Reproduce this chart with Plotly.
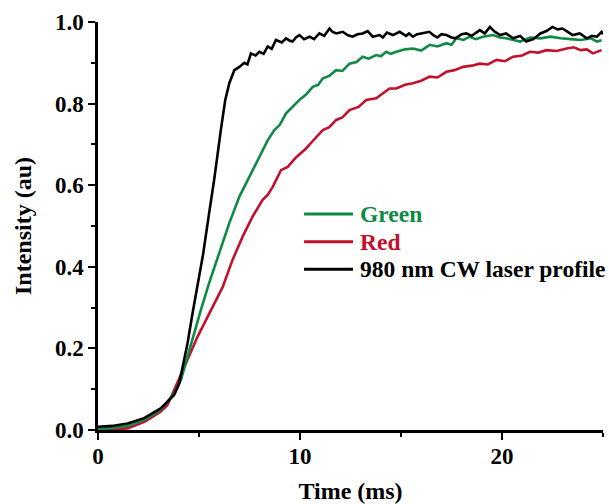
import plotly.graph_objects as go

# Rise of the upconversion emission under 980 nm CW excitation
t_laser = [0.0, 0.7, 1.46, 2.28, 3.1, 3.77, 4.02, 4.18, 4.43, 4.68, 4.93, 5.2, 5.5,
           5.75, 6.08, 6.3, 6.5, 6.75, 7.0, 7.24, 7.4, 7.57, 7.8, 7.99, 8.2, 8.4,
           8.6, 8.81, 9.1, 9.31, 9.5, 9.63, 9.8, 9.97, 10.2, 10.47, 10.7, 10.96,
           11.2, 11.46, 11.6, 11.79, 12.12, 12.35, 12.6, 12.85, 13.1, 13.35, 13.6,
           13.94, 14.1, 14.3, 14.6, 14.93, 15.25, 15.4, 15.59, 15.8, 16.0, 16.4,
           16.6, 16.8, 17.0, 17.25, 17.5, 17.7, 18.0, 18.24, 18.5, 18.9, 19.15,
           19.4, 19.6, 19.9, 20.2, 20.55, 20.9, 21.2, 21.55, 21.9, 22.2, 22.5,
           22.75, 23.0, 23.25, 23.5, 23.85, 24.2, 24.45, 24.7, 24.93, 25.0]
v_laser = [0.008, 0.010, 0.016, 0.029, 0.053, 0.086, 0.114, 0.155, 0.212, 0.286,
           0.351, 0.430, 0.531, 0.613, 0.735, 0.809, 0.850, 0.882, 0.890, 0.900,
           0.896, 0.923, 0.918, 0.927, 0.922, 0.940, 0.934, 0.956, 0.950, 0.960,
           0.954, 0.952, 0.962, 0.968, 0.958, 0.964, 0.958, 0.972, 0.966, 0.984,
           0.976, 0.972, 0.976, 0.968, 0.964, 0.970, 0.972, 0.978, 0.964, 0.968,
           0.962, 0.974, 0.968, 0.976, 0.966, 0.972, 0.964, 0.970, 0.972, 0.976,
           0.968, 0.962, 0.970, 0.968, 0.962, 0.960, 0.970, 0.972, 0.966, 0.980,
           0.972, 0.988, 0.978, 0.968, 0.972, 0.960, 0.966, 0.952, 0.958, 0.972,
           0.978, 0.988, 0.982, 0.984, 0.976, 0.968, 0.972, 0.960, 0.966, 0.964,
           0.976, 0.970]

t_green = [0.0, 0.7, 1.46, 2.3, 3.1, 3.77, 4.1, 4.43, 4.76, 5.09, 5.5, 6.0, 6.5,
           7.0, 7.49, 7.99, 8.4, 8.73, 9.0, 9.31, 9.6, 9.97, 10.3, 10.63, 10.9,
           11.13, 11.45, 11.79, 12.1, 12.45, 12.8, 13.1, 13.4, 13.77, 14.0, 14.27,
           14.5, 14.77, 15.2, 15.59, 16.0, 16.42, 16.8, 17.25, 17.5, 17.74, 18.1,
           18.4, 18.7, 19.06, 19.56, 19.9, 20.2, 20.55, 20.9, 21.4, 21.9, 22.4,
           22.9, 23.4, 23.9, 24.4, 24.7, 24.93]
v_green = [0.003, 0.005, 0.010, 0.025, 0.049, 0.090, 0.122, 0.180, 0.237, 0.294,
           0.360, 0.433, 0.507, 0.572, 0.621, 0.670, 0.710, 0.735, 0.748, 0.776,
           0.790, 0.809, 0.822, 0.841, 0.846, 0.862, 0.868, 0.882, 0.880, 0.898,
           0.902, 0.915, 0.910, 0.919, 0.916, 0.927, 0.922, 0.927, 0.933, 0.935,
           0.930, 0.944, 0.940, 0.948, 0.944, 0.960, 0.956, 0.964, 0.958, 0.964,
           0.968, 0.962, 0.960, 0.956, 0.952, 0.962, 0.960, 0.964, 0.960, 0.958,
           0.956, 0.960, 0.952, 0.955]

t_red = [0.0, 0.7, 1.46, 2.3, 3.1, 3.44, 3.93, 4.43, 4.93, 5.5, 6.17, 6.66, 7.16,
         7.65, 8.15, 8.4, 8.65, 9.06, 9.39, 9.8, 10.3, 10.7, 11.13, 11.45, 11.79,
         12.1, 12.45, 12.9, 13.28, 13.77, 14.1, 14.43, 14.77, 15.2, 15.59, 16.0,
         16.42, 16.8, 17.25, 17.65, 18.07, 18.5, 18.9, 19.3, 19.73, 20.15, 20.55,
         21.0, 21.38, 21.8, 22.2, 22.7, 23.2, 23.55, 23.9, 24.2, 24.5, 24.93]
v_red = [0.000, 0.002, 0.004, 0.020, 0.045, 0.061, 0.114, 0.172, 0.229, 0.286,
         0.350, 0.417, 0.474, 0.523, 0.564, 0.576, 0.596, 0.637, 0.645, 0.668,
         0.690, 0.712, 0.735, 0.742, 0.760, 0.766, 0.784, 0.792, 0.809, 0.813,
         0.826, 0.837, 0.837, 0.846, 0.850, 0.856, 0.866, 0.864, 0.878, 0.882,
         0.890, 0.893, 0.898, 0.896, 0.907, 0.904, 0.915, 0.918, 0.927, 0.925,
         0.931, 0.929, 0.935, 0.938, 0.931, 0.933, 0.923, 0.931]

series_names = ["Green", "Red", "980 nm CW laser profile"]
series_colors = ["#0f8a45", "#c1122d", "#000000"]

FONT = "Liberation Serif, Times New Roman, serif"

fig = go.Figure()
for name, tx, vy, col in [
    (series_names[1], t_red, v_red, series_colors[1]),
    (series_names[0], t_green, v_green, series_colors[0]),
    (series_names[2], t_laser, v_laser, series_colors[2]),
]:
    fig.add_trace(go.Scatter(x=tx, y=vy, mode="lines", name=name,
                             line=dict(color=col, width=2.6), showlegend=False))

# Hand-placed legend: short line samples followed by coloured labels
legend_y = [0.5294, 0.4615, 0.3939]
for name, col, ly in zip(series_names, series_colors, legend_y):
    fig.add_shape(type="line", xref="paper", yref="paper",
                  x0=0.408, x1=0.505, y0=ly, y1=ly,
                  line=dict(color=col, width=3))
    fig.add_annotation(text=name, xref="paper", yref="paper", x=0.516, y=ly,
                       xanchor="left", yanchor="middle", showarrow=False,
                       borderpad=0,
                       font=dict(family=FONT, size=23.5, color=col, weight="bold"))

# Vertical axis title
fig.add_annotation(text="Intensity (au)", xref="paper", yref="paper",
                   x=-0.1485, y=0.5, xanchor="center", yanchor="middle",
                   textangle=-90, showarrow=False,
                   font=dict(family=FONT, size=24, color="black", weight="bold"))

axis_common = dict(
    showline=True, linecolor="black", linewidth=2.5, mirror=False,
    showgrid=False, zeroline=False, automargin=False,
    ticks="outside", ticklen=7, tickwidth=2, tickcolor="black",
    tickfont=dict(family=FONT, size=23, color="black", weight="bold"),
)

fig.update_xaxes(
    range=[0, 25], tickvals=[0, 10, 20], ticktext=["0", "10", "20"],
    ticklabelstandoff=-3,
    minor=dict(tickvals=[5, 15, 25], ticks="outside", ticklen=4, tickwidth=2,
               tickcolor="black"),
    title=dict(text="Time (ms)", standoff=21,
               font=dict(family=FONT, size=24, color="black", weight="bold")),
    **axis_common,
)
fig.update_yaxes(
    range=[0, 1.0], tickvals=[0, 0.2, 0.4, 0.6, 0.8, 1.0], tickformat=".1f",
    minor=dict(tickvals=[0.1, 0.3, 0.5, 0.7, 0.9], ticks="outside", ticklen=4,
               tickwidth=2, tickcolor="black"),
    **axis_common,
)

fig.update_layout(
    width=609, height=504,
    margin=dict(l=98, r=6, t=22, b=74),
    paper_bgcolor="white", plot_bgcolor="white",
)

fig.write_html("out.html")
